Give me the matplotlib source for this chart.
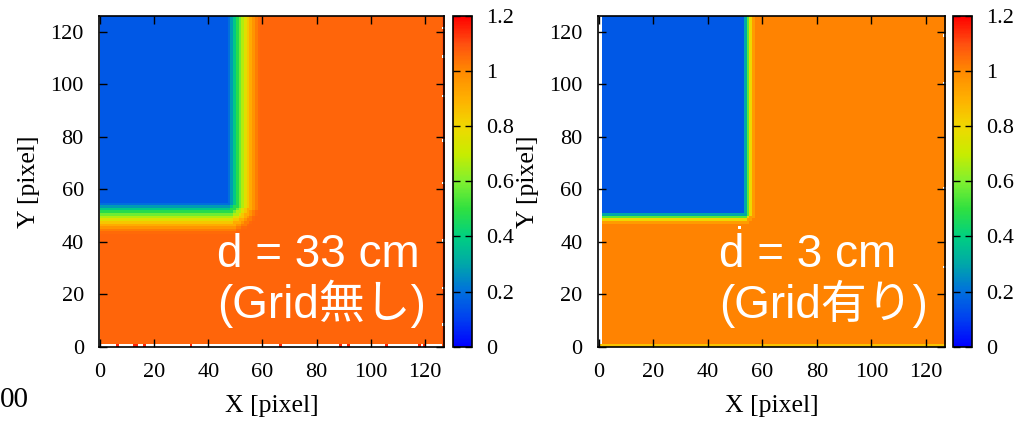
import numpy as np
import matplotlib.pyplot as plt
from matplotlib.colors import LinearSegmentedColormap

# 128 x 128 detector maps, built from the edge profiles
n_pix = 128

# left map: d = 33 cm, no grid
blue_edge_x_L = 47          # first column past the shadow
blue_edge_y_L = 55          # first row above the lower edge of the shadow
profile_L = [0.15, 0.2, 0.28, 0.38, 0.48, 0.58, 0.67, 0.76, 0.84, 0.91, 0.97, 1.02, 1.05, 1.06]
red_cells_row0_L = [6, 12, 13, 16, 33, 66, 88, 91, 105, 117, 119]
gap_rows_col126_L = [8, 22, 40, 62, 78, 95, 110, 121]

# right map: d = 3 cm, with grid
blue_edge_x_R = 53
blue_edge_y_R = 51
profile_R = [0.15, 0.3, 0.55, 0.8, 0.95, 1.01]
gap_cells_R = [(51, 45), (0, 20), (126, 30), (126, 60), (126, 100), (126, 118)]

cbar_ticks = [0, 0.2, 0.4, 0.6, 0.8, 1.0, 1.2]
cbar_labels = ['0', '0.2', '0.4', '0.6', '0.8', '1', '1.2']
axis_ticks = [0, 20, 40, 60, 80, 100, 120]

labels_L = ['d = 33 cm', '(Grid無し)']
labels_R = ['d = 3 cm', '(Grid有り)']

cmap_colors = [
    (0.0, '#0000ff'), (0.1 / 1.2, '#0040f0'), (0.2 / 1.2, '#0070dd'),
    (0.3 / 1.2, '#00a8a8'), (0.4 / 1.2, '#00d080'), (0.5 / 1.2, '#30e040'),
    (0.6 / 1.2, '#80f030'), (0.7 / 1.2, '#c8ec00'), (0.8 / 1.2, '#f0d800'),
    (0.9 / 1.2, '#ffb000'), (1.0 / 1.2, '#ff8a00'), (1.1 / 1.2, '#ff5010'),
    (1.0, '#ff0000'),
]
cmap = LinearSegmentedColormap.from_list('gp', cmap_colors)
cmap.set_bad('white')


def build_map(edge_x, edge_y, profile):
    yy, xx = np.mgrid[0:n_pix, 0:n_pix]
    dx = xx - (edge_x - 1)
    dy = edge_y - yy
    step = np.maximum(dx, dy).astype(float)
    both = (dx > 0) & (dy > 0)
    step[both] = np.sqrt(dx[both] ** 2 + dy[both] ** 2)
    k = np.clip(np.round(step), 0, len(profile) - 1).astype(int)
    return np.array(profile)[k]


map_L = build_map(blue_edge_x_L, blue_edge_y_L, profile_L)
map_L[0, :] = np.nan
map_L[0, red_cells_row0_L] = 1.15
map_L[:, 127] = np.nan
map_L[:, 126] = 1.1
map_L[gap_rows_col126_L, 126] = np.nan

map_R = build_map(blue_edge_x_R, blue_edge_y_R, profile_R)
map_R[0, :] = 0.85
map_R[:, 127] = np.nan
map_R[1:, 0] = np.nan
for gx, gy in gap_cells_R:
    map_R[gy, gx] = np.nan

serif = 'Liberation Serif'
sans = ['Liberation Sans', 'Noto Sans CJK JP']

fig = plt.figure(figsize=(10.22, 4.21), dpi=100)

panels = [
    (map_L, [0.0969, 0.1765, 0.3376, 0.7855], [0.4432, 0.1765, 0.0186, 0.7855], labels_L, 0.2123),
    (map_R, [0.5851, 0.1765, 0.3395, 0.7855], [0.9325, 0.1765, 0.0186, 0.7855], labels_R, 0.7035),
]

for data, ax_rect, cb_rect, txt, tx in panels:
    ax = fig.add_axes(ax_rect)
    im = ax.imshow(data, origin='lower', cmap=cmap, vmin=0, vmax=1.2,
                   extent=(0, n_pix, 0, n_pix), aspect='auto', interpolation='nearest')
    ax.set_xlim(-0.3, 127)
    ax.set_ylim(0, 126)
    ax.set_xticks(axis_ticks)
    ax.set_yticks(axis_ticks)
    ax.tick_params(direction='in', top=True, right=True, length=6, width=1,
                   labelsize=16)
    ax.tick_params(axis='x', pad=12)
    ax.tick_params(axis='y', pad=11)
    for lab in ax.get_xticklabels() + ax.get_yticklabels():
        lab.set_fontfamily(serif)
    for sp in ax.spines.values():
        sp.set_linewidth(1.2)
    ax.set_xlabel('X [pixel]', fontsize=18.5, family=serif)
    ax.set_ylabel('Y [pixel]', fontsize=18.5, family=serif)
    ax.xaxis.set_label_coords(0.5, -0.145)
    ax.yaxis.set_label_coords(-0.17, 0.5)

    cax = fig.add_axes(cb_rect)
    cb = fig.colorbar(im, cax=cax)
    cb.set_ticks(cbar_ticks)
    cb.set_ticklabels(cbar_labels)
    cax.tick_params(direction='in', left=True, right=True, length=5, width=1,
                    labelsize=16, pad=10)
    for lab in cax.get_yticklabels():
        lab.set_fontfamily(serif)
    cb.outline.set_linewidth(1.2)

    fig.text(tx, 0.3658, txt[0], color='white', fontsize=33, family=sans,
             ha='left', va='baseline')
    fig.text(tx, 0.2447, txt[1], color='white', fontsize=33, family=sans,
             ha='left', va='baseline')

fig.text(0, 1 - 400 / 421, '00', fontsize=21, family=serif,
         ha='left', va='center')

fig.savefig('out.png', dpi=100)
